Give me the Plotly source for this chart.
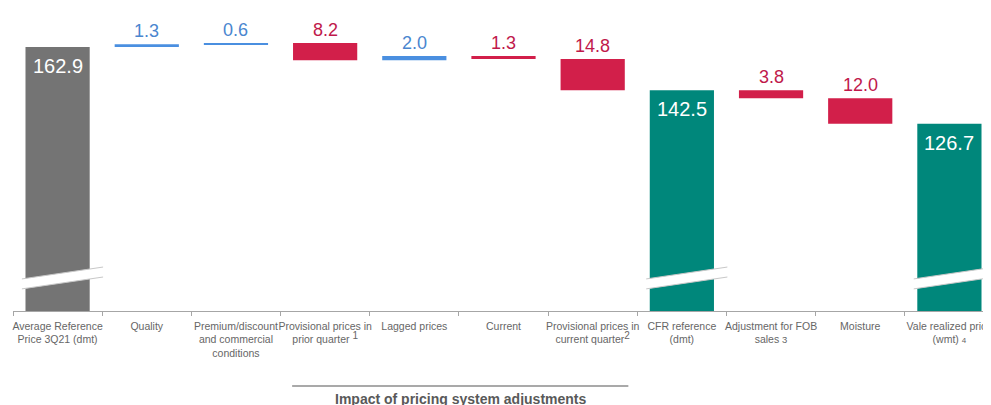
import plotly.graph_objects as go

categories = [
    "Average Reference<br>Price 3Q21 (dmt)",
    "Quality",
    "Premium/discount<br>and commercial<br>conditions",
    "Provisional prices in<br>prior quarter <sup><span style='font-size:10px'>1</span></sup>",
    "Lagged prices",
    "Current",
    "Provisional prices in<br>current quarter<sup><span style='font-size:10px'>2</span></sup>",
    "CFR reference<br>(dmt)",
    "Adjustment for FOB<br>sales <span style='font-size:9.5px'>3</span>",
    "Moisture",
    "Vale realized price<br>(wmt) <span style='font-size:8px'>4</span>",
]
values = [162.9, 1.3, 0.6, -8.2, 2.0, -1.3, -14.8, 142.5, -3.8, -12.0, 126.7]
measures = ["total", "relative", "relative", "relative", "relative", "relative",
            "relative", "total", "relative", "relative", "total"]
total_colors = ["#747474", "#00877b", "#00877b"]
group_label = "Impact of pricing system adjustments"

POS_BAR, NEG_BAR = "#4a8fe0", "#d21f4a"
POS_TXT, NEG_TXT = "#4a86cf", "#c0184b"
BW = 0.72
Y0, Y1 = 38.37, 181.3
FONT = "Liberation Sans, Arial, sans-serif"

bases, heights, colors, tops = [], [], [], []
running = 0.0
ti = 0
for v, m in zip(values, measures):
    if m == "total":
        running = v
        bases.append(0)
        heights.append(v)
        colors.append(total_colors[ti])
        ti += 1
        tops.append(v)
    else:
        new = running + v
        bases.append(min(running, new))
        heights.append(abs(v))
        colors.append(POS_BAR if v > 0 else NEG_BAR)
        tops.append(max(running, new))
        running = new

fig = go.Figure()
fig.add_trace(go.Bar(
    x=categories, y=heights, base=bases, width=BW,
    marker=dict(color=colors, line=dict(width=0)),
    hoverinfo="skip", showlegend=False,
))

annotations = []
shapes = []
for i, (v, m) in enumerate(zip(values, measures)):
    if m == "total":
        annotations.append(dict(
            x=i, y=tops[i], xref="x", yref="y", text=f"{v:.1f}",
            showarrow=False, yanchor="top", yshift=-6,
            font=dict(size=20, color="white", family=FONT),
        ))
        # axis break band
        x0 = i - BW / 2 - 0.04
        x1 = i + BW / 2 + 0.15
        yl, yr, th = 53.5, 59.1, 4.7
        shapes.append(dict(
            type="path", xref="x", yref="y",
            path=f"M {x0},{yl} L {x1},{yr} L {x1},{yr - th} L {x0},{yl - th} Z",
            fillcolor="white", line=dict(width=0), layer="above",
        ))
        for yy0, yy1 in [(yl, yr), (yl - th, yr - th)]:
            shapes.append(dict(
                type="line", xref="x", yref="y", x0=x0, x1=x1, y0=yy0, y1=yy1,
                line=dict(color="#c8c8c8", width=1), layer="above",
            ))
    else:
        annotations.append(dict(
            x=i, y=tops[i], xref="x", yref="y", text=f"{abs(v):.1f}",
            showarrow=False, yanchor="bottom", yshift=1,
            font=dict(size=18, color=POS_TXT if v > 0 else NEG_TXT, family=FONT),
        ))

# group bracket below axis
shapes.append(dict(type="line", xref="x", yref="paper", x0=2.63, x1=6.40,
                   y0=-0.2475, y1=-0.2475, line=dict(color="#8c8c8c", width=1.5)))
annotations.append(dict(
    x=4.515, y=-0.289, xref="x", yref="paper", text=f"<b>{group_label}</b>",
    showarrow=False, yanchor="middle",
    font=dict(size=14, color="#595959", family=FONT),
))

fig.update_layout(
    width=991, height=405,
    margin=dict(l=5, r=5, t=0, b=102),
    paper_bgcolor="white", plot_bgcolor="white",
    shapes=shapes, annotations=annotations,
    xaxis=dict(
        type="category", range=[-0.5, 10.5],
        showline=True, linecolor="#a6a6a6", linewidth=1,
        ticks="outside", tickson="boundaries", ticklen=4, tickcolor="#a6a6a6",
        showgrid=False, zeroline=False, ticklabelstandoff=5,
        tickfont=dict(size=10.5, color="#666666", family=FONT),
        tickangle=0,
    ),
    yaxis=dict(range=[Y0, Y1], visible=False, showgrid=False, zeroline=False),
)

fig.write_html("out.html")
